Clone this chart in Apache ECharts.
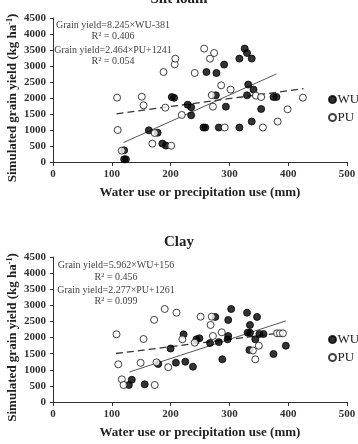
<!DOCTYPE html>
<html>
<head>
<meta charset="utf-8">
<script src="https://cdn.jsdelivr.net/npm/echarts@6/dist/echarts.min.js"></script>
<style>
html, body { margin: 0; padding: 0; background: #fff; }
#main { width: 358px; height: 444px; }
</style>
</head>
<body>
<div id="main"></div>
<script>
// 数据：两种土壤的模拟产量 vs 耗水/降水利用量
var titles = ['Silt loam', 'Clay'];
var xTicks = [0, 100, 200, 300, 400, 500];
var yTicks = [0, 500, 1000, 1500, 2000, 2500, 3000, 3500, 4000, 4500];

// Silt loam
var siltWU = [
    [121, 365], [121, 84], [124, 84], [163, 990], [178, 915], [186, 575], [192, 515],
    [202, 2031], [206, 2005], [229, 1790], [235, 1710], [235, 1459],
    [256, 1078], [259, 1078], [261, 2812], [278, 2781], [277, 2084], [282, 1078],
    [291, 3043], [294, 1730], [317, 1078], [317, 3231], [326, 3543], [330, 3406],
    [338, 3231], [330, 2084], [332, 2420], [341, 2262], [338, 1265], [354, 1656],
    [375, 2031], [380, 2031]
];
var siltPU = [
    [109, 2010], [110, 1000], [117, 355], [151, 2040], [154, 1771], [169, 573],
    [173, 906], [188, 2812], [191, 1698], [201, 510], [207, 3052], [208, 3229],
    [219, 1470], [241, 2781], [257, 3543], [267, 3229], [270, 2090], [272, 1730],
    [274, 3406], [286, 2396], [292, 1078], [302, 2262], [345, 2075], [354, 2031],
    [357, 1078], [382, 1265], [399, 1647], [425, 2010]
];
var siltWuFit = [[120, 608], [380, 2752]];
var siltPuFit = [[108, 1507], [426, 2291]];
var siltText = ['Grain yield=8.245×WU-381', 'R² = 0.406', 'Grain yield=2.464×PU+1241', 'R² = 0.054'];

// Clay
var clayWU = [
    [129, 528], [134, 690], [156, 549], [179, 1179], [200, 1660], [209, 1220],
    [222, 2100], [225, 1251], [238, 1096], [244, 1946], [249, 1977], [267, 1830],
    [276, 2640], [282, 1860], [288, 1325], [297, 1945], [298, 2048], [298, 2545],
    [303, 2886], [330, 2772], [331, 2150], [335, 2150], [335, 2390], [334, 1614],
    [344, 1945], [347, 2640], [351, 2110], [358, 2110], [375, 1490], [396, 1747]
];
var clayPU = [
    [108, 2100], [111, 1170], [117, 704], [120, 528], [149, 1215], [154, 1955],
    [172, 2550], [173, 528], [176, 1230], [190, 2886], [196, 1080], [210, 2772],
    [220, 1946], [241, 1840], [251, 2648], [268, 2390], [270, 2648], [272, 2048],
    [287, 2163], [340, 1600], [344, 1325], [350, 1747], [381, 2132], [386, 2132],
    [391, 2132]
];
var clayWuFit = [[130, 931], [396, 2517]];
var clayPuFit = [[107, 1505], [382, 2131]];
var clayText = ['Grain yield=5.962×WU+156', 'R² = 0.456', 'Grain yield=2.277×PU+1261', 'R² = 0.099'];

var FONT = '"Liberation Serif", "DejaVu Serif", serif';
var chart = echarts.init(document.getElementById('main'));

function plain(v) {
    return String(v);
}
function makeX(idx) {
    return {
        gridIndex: idx, type: 'value', min: xTicks[0], max: xTicks[xTicks.length - 1], interval: 100,
        name: 'Water use or precipitation use (mm)', nameLocation: 'middle', nameGap: 24, nameMoveOverlap: false,
        nameTextStyle: { fontFamily: FONT, fontWeight: 'bold', fontSize: 13, color: '#222' },
        axisLine: { lineStyle: { color: '#333', width: 1 } },
        axisTick: { show: true, length: 4, lineStyle: { color: '#333' } },
        axisLabel: { fontFamily: FONT, fontWeight: 'bold', fontSize: 11, color: '#333', margin: 7, formatter: plain },
        splitLine: { show: false }
    };
}
function makeY(idx) {
    return {
        gridIndex: idx, type: 'value', min: yTicks[0], max: yTicks[yTicks.length - 1], interval: 500,
        name: 'Simulated grain yield (kg ha{sup|-1})', nameLocation: 'middle', nameGap: 33, nameMoveOverlap: false,
        nameTextStyle: {
            fontFamily: FONT, fontWeight: 'bold', fontSize: 13, color: '#222', padding: [0, 16, 0, 0],
            rich: { sup: { fontFamily: FONT, fontWeight: 'bold', fontSize: 8, color: '#222', verticalAlign: 'top', padding: [0, 0, 6, 0] } }
        },
        axisLine: { show: true, lineStyle: { color: '#333', width: 1 } },
        axisTick: { show: true, length: 3, lineStyle: { color: '#333' } },
        axisLabel: { fontFamily: FONT, fontWeight: 'bold', fontSize: 11, color: '#333', margin: 7, formatter: plain },
        splitLine: { show: false }
    };
}
function scatter(name, idx, data, filled) {
    return {
        name: name, type: 'scatter', xAxisIndex: idx, yAxisIndex: idx, data: data,
        symbol: 'circle', symbolSize: 7,
        itemStyle: filled ? { color: '#000', borderColor: '#000', borderWidth: 1 }
                          : { color: '#fff', borderColor: '#111', borderWidth: 1 },
        z: 3
    };
}
function fit(idx, data, dashed) {
    return {
        type: 'line', xAxisIndex: idx, yAxisIndex: idx, data: data, symbol: 'none',
        lineStyle: dashed ? { color: '#333', width: 1.3, type: [7, 4] } : { color: '#555', width: 1 },
        z: 2, silent: true
    };
}
function notes(lines, cx, ys) {
    return lines.map(function (t, i) {
        return {
            type: 'text', x: cx, y: ys[i],
            style: { text: t, fill: '#444', font: '10px ' + FONT, align: 'center', verticalAlign: 'middle' }
        };
    });
}
function legend(top) {
    return {
        data: ['WU', 'PU'], orient: 'vertical', left: 328, top: top,
        itemWidth: 8, itemHeight: 7, itemGap: 5, padding: 0,
        textStyle: { fontFamily: FONT, fontSize: 13, color: '#222', padding: [0, 0, 0, -4] }
    };
}

var option = {
    animation: false,
    title: [
        { text: titles[0], left: 'center', top: -13, textStyle: { fontFamily: FONT, fontWeight: 'bold', fontSize: 15, color: '#222' } },
        { text: titles[1], left: 'center', top: 230, textStyle: { fontFamily: FONT, fontWeight: 'bold', fontSize: 15, color: '#222' } }
    ],
    legend: [legend(93), legend(333)],
    grid: [
        { left: 53, right: 11, top: 18, height: 144, containLabel: false, outerBoundsMode: 'none' },
        { left: 53, right: 11, top: 257, height: 145, containLabel: false, outerBoundsMode: 'none' }
    ],
    xAxis: [makeX(0), makeX(1)],
    yAxis: [makeY(0), makeY(1)],
    series: [
        fit(0, siltWuFit, false), fit(0, siltPuFit, true),
        scatter('WU', 0, siltWU, true), scatter('PU', 0, siltPU, false),
        fit(1, clayWuFit, false), fit(1, clayPuFit, true),
        scatter('WU', 1, clayWU, true), scatter('PU', 1, clayPU, false)
    ],
    graphic: notes(siltText, 113, [25, 36, 50, 61]).concat(notes(clayText, 116, [265, 277, 290, 301]))
};
chart.setOption(option);
</script>
</body>
</html>
